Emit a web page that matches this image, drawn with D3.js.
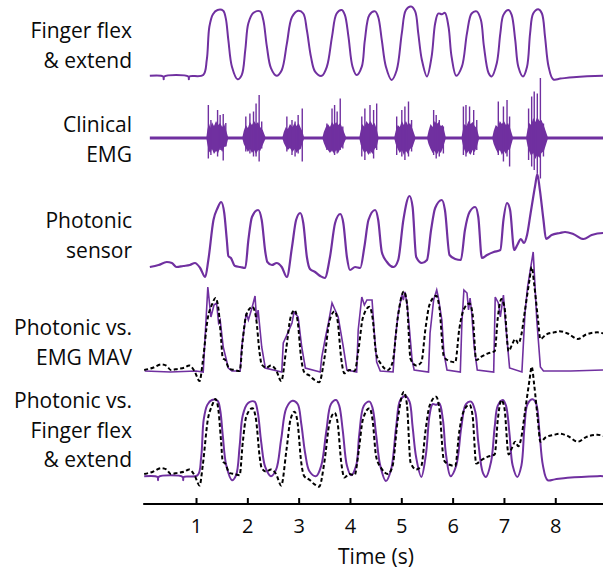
<!DOCTYPE html>
<html>
<head>
<meta charset="utf-8">
<script src="https://cdn.jsdelivr.net/npm/d3@7"></script>
<style>
  body { margin: 0; background: #fff; }
  text { font-family: "Open Sans", sans-serif; fill: #0a0a0a; }
</style>
</head>
<body>
<svg id="chart" width="603" height="572"></svg>
<script>

// ---- data (time in s, amplitude in arbitrary units) ----
var xTicks = [1, 2, 3, 4, 5, 6, 7, 8];

var rowLabels = [
  ["Finger flex", "& extend"],
  ["Clinical", "EMG"],
  ["Photonic", "sensor"],
  ["Photonic vs.", "EMG MAV"],
  ["Photonic vs.", "Finger flex", "& extend"]
];

// finger flex / extend (goniometer)
var fingerFlex = [
  [0.10,6],[0.36,5],[0.37,1],[0.38,5],[0.85,5],[0.86,1],[0.87,5],[1.14,7],[1.21,29],[1.26,76],
  [1.33,94],[1.42,100],[1.53,99],[1.58,88],[1.63,57],[1.70,19],[1.81,1],[1.89,7],[1.96,43],[2.02,81],
  [2.12,96],[2.25,98],[2.31,86],[2.38,48],[2.46,17],[2.57,6],[2.67,14],[2.77,52],[2.87,90],[2.99,99],
  [3.09,95],[3.16,71],[3.24,33],[3.32,12],[3.45,6],[3.55,19],[3.65,62],[3.74,95],[3.84,100],[3.90,93],
  [3.97,62],[4.05,19],[4.13,7],[4.23,19],[4.29,57],[4.38,93],[4.49,98],[4.55,90],[4.62,57],[4.70,19],
  [4.81,0],[4.91,14],[5.01,67],[5.09,100],[5.19,105],[5.27,98],[5.33,67],[5.40,29],[5.50,5],[5.59,33],
  [5.66,81],[5.72,95],[5.79,94],[5.85,96],[5.92,76],[5.98,33],[6.07,6],[6.18,19],[6.28,67],[6.37,95],
  [6.47,98],[6.55,86],[6.61,48],[6.70,10],[6.76,5],[6.86,24],[6.93,67],[6.99,93],[7.09,100],[7.15,93],
  [7.22,57],[7.28,19],[7.37,5],[7.45,19],[7.51,67],[7.57,95],[7.67,101],[7.74,95],[7.80,62],[7.87,19],
  [7.96,1],[8.10,2],[8.35,4],[8.93,6],[9.05,6]
];

// clinical EMG: ragged core band [t, upper, lower] + individual spikes [t, up, down]
var emgCore = [
  [1.20,0,0],[1.22,16,-12],[1.25,30,-26],[1.28,20,-30],[1.31,32,-22],[1.35,24,-32],[1.39,34,-26],[1.43,26,-30],[1.47,30,-20],[1.51,22,-28],[1.55,28,-18],[1.59,14,-16],[1.63,0,0],
  [1.90,0,0],[1.93,14,-12],[1.97,26,-20],[2.01,20,-28],[2.05,32,-22],[2.09,26,-30],[2.13,34,-24],[2.17,28,-32],[2.21,32,-24],[2.25,22,-26],[2.30,16,-14],[2.36,0,0],
  [2.68,0,0],[2.71,12,-10],[2.75,22,-18],[2.79,18,-24],[2.83,28,-20],[2.88,22,-28],[2.92,30,-22],[2.96,24,-30],[3.00,30,-24],[3.04,20,-22],[3.07,14,-12],[3.11,0,0],
  [3.46,0,0],[3.49,12,-10],[3.53,22,-20],[3.57,28,-24],[3.61,22,-30],[3.65,32,-24],[3.69,26,-32],[3.73,32,-24],[3.77,26,-30],[3.81,30,-22],[3.86,18,-16],[3.93,0,0],
  [4.18,0,0],[4.21,16,-14],[4.24,28,-22],[4.28,22,-30],[4.32,34,-26],[4.36,28,-34],[4.40,34,-26],[4.44,26,-32],[4.48,30,-22],[4.52,18,-18],[4.56,0,0],
  [4.86,0,0],[4.89,14,-12],[4.93,26,-22],[4.97,22,-30],[5.01,34,-24],[5.05,26,-34],[5.09,34,-26],[5.13,26,-32],[5.17,30,-22],[5.22,18,-18],[5.28,0,0],
  [5.50,0,0],[5.53,14,-12],[5.57,28,-22],[5.61,22,-30],[5.65,34,-26],[5.69,28,-34],[5.73,32,-26],[5.77,24,-30],[5.81,26,-20],[5.87,0,0],
  [6.17,0,0],[6.20,16,-14],[6.23,28,-24],[6.27,24,-32],[6.31,34,-26],[6.35,28,-34],[6.39,32,-24],[6.43,24,-28],[6.47,20,-18],[6.52,0,0],
  [6.77,0,0],[6.80,14,-12],[6.84,26,-22],[6.88,22,-30],[6.92,34,-24],[6.96,28,-34],[7.00,34,-26],[7.04,26,-32],[7.08,30,-24],[7.12,20,-22],[7.18,0,0],
  [7.43,0,0],[7.46,18,-16],[7.49,30,-26],[7.53,26,-36],[7.57,40,-30],[7.61,32,-42],[7.65,42,-34],[7.69,34,-40],[7.73,36,-30],[7.78,24,-26],[7.86,0,0]
];
var emgSpikes = [
  [1.24,66,-41],[1.29,36,-34],[1.42,56,-37],[1.47,46,-24],[1.53,48,-45],[1.58,30,-17],
  [1.97,43,-27],[2.05,49,-31],[2.12,53,-37],[2.17,69,-37],[2.23,86,-47],[2.28,33,-21],
  [2.77,43,-27],[2.87,36,-34],[2.93,33,-37],[2.99,46,-31],[3.07,59,-47],
  [3.55,29,-24],[3.65,59,-27],[3.70,66,-34],[3.75,53,-31],[3.81,79,-24],[3.86,23,-21],
  [4.23,43,-37],[4.29,59,-44],[4.39,66,-31],[4.46,56,-41],[4.52,69,-24],
  [4.91,43,-34],[5.01,56,-37],[5.07,63,-44],[5.14,73,-37],[5.20,36,-27],
  [5.63,56,-34],[5.68,46,-41],[5.74,36,-37],[5.82,23,-31],
  [6.21,63,-34],[6.26,66,-37],[6.33,63,-31],[6.41,56,-34],[6.47,36,-24],
  [6.89,73,-34],[6.99,63,-47],[7.06,76,-37],[7.11,43,-57],
  [7.48,59,-44],[7.54,83,-57],[7.59,93,-64],[7.65,89,-71],[7.71,120,-81],[7.77,29,-37]
];

// photonic sensor
var photonic = [
  [0.10,13],[0.27,15],[0.43,18],[0.53,17],[0.62,13],[0.75,14],[0.88,15],[0.98,17],[1.08,12],[1.18,3],
  [1.24,20],[1.34,60],[1.42,72],[1.49,78],[1.55,67],[1.60,40],[1.63,24],[1.68,22],[1.76,14],[1.86,13],
  [1.96,12],[2.02,40],[2.09,63],[2.21,70],[2.28,60],[2.35,28],[2.39,18],[2.48,15],[2.57,17],[2.67,13],
  [2.77,3],[2.87,33],[2.95,60],[3.03,67],[3.09,57],[3.16,23],[3.22,11],[3.32,8],[3.42,4],[3.51,2],
  [3.61,23],[3.71,57],[3.81,66],[3.87,57],[3.94,23],[4.00,10],[4.10,13],[4.20,12],[4.28,33],[4.36,60],
  [4.49,70],[4.55,60],[4.62,28],[4.72,18],[4.85,13],[4.94,20],[5.04,60],[5.16,84],[5.22,73],[5.29,23],
  [5.40,17],[5.50,20],[5.58,50],[5.66,72],[5.79,80],[5.85,70],[5.94,25],[6.05,21],[6.16,20],[6.24,50],
  [6.33,68],[6.44,73],[6.50,63],[6.57,22],[6.67,25],[6.80,28],[6.93,30],[6.99,60],[7.06,77],[7.12,70],
  [7.20,30],[7.26,35],[7.33,41],[7.39,37],[7.45,45],[7.52,67],[7.61,95],[7.65,106],[7.70,90],[7.77,60],
  [7.82,41],[7.93,45],[8.09,47],[8.19,48],[8.35,46],[8.55,41],[8.71,45],[8.93,47],[9.05,46]
];

// EMG mean absolute value
var emgMav = [
  [0,1],[0.5,0],[1.0,1],[1.14,0],[1.23,85],[1.29,55],[1.35,67],[1.40,69],[1.44,49],[1.47,52],
  [1.53,25],[1.63,4],[1.70,1],[1.86,1],[1.89,25],[1.98,59],[2.02,52],[2.09,64],[2.15,76],[2.18,52],
  [2.21,62],[2.28,25],[2.35,4],[2.67,0],[2.70,29],[2.77,37],[2.87,49],[2.91,60],[2.99,55],[3.06,25],
  [3.13,4],[3.42,0],[3.45,15],[3.52,34],[3.58,49],[3.65,69],[3.71,62],[3.77,55],[3.87,25],[3.94,2],
  [4.13,0],[4.16,42],[4.23,75],[4.28,67],[4.33,72],[4.43,72],[4.47,42],[4.52,10],[4.59,1],[4.84,0],
  [4.88,32],[4.94,59],[5.01,77],[5.04,72],[5.07,80],[5.11,69],[5.16,42],[5.21,12],[5.25,2],[5.53,0],
  [5.56,39],[5.63,72],[5.69,82],[5.72,75],[5.79,52],[5.83,19],[5.89,2],[6.15,0],[6.18,49],[6.22,82],
  [6.28,79],[6.31,62],[6.34,74],[6.37,60],[6.42,25],[6.48,2],[6.80,0],[6.83,75],[6.89,69],[6.93,55],
  [6.99,77],[7.02,55],[7.11,4],[7.35,0],[7.41,59],[7.46,85],[7.57,120],[7.64,52],[7.71,5],[7.77,1],
  [8.30,1],[8.93,2]
];

// overlay rows are plotted slightly earlier than the single traces
var overlayShift = 0.11;

// ---- layout ----
var purple = "#7030a0";
var svg = d3.select("#chart");

var x = d3.scaleLinear().domain([0, 8.93]).range([144.7, 603]);

var y1 = d3.scaleLinear().domain([0, 100]).range([80, 10]);
var y2 = d3.scaleLinear().domain([-100, 100]).range([188, 88]);
var y3 = d3.scaleLinear().domain([0, 100]).range([280, 180]);
var y4 = d3.scaleLinear().domain([0, 100]).range([372, 272]);
var y4b = d3.scaleLinear().domain([13, 78]).range([370, 298]);
var y5 = d3.scaleLinear().domain([0, 100]).range([481, 400]);
var y5b = d3.scaleLinear().domain([13, 78]).range([474, 399]);

function trace(ys, shift, curve) {
  return d3.line()
    .x(function(d) { return x(d[0] - shift); })
    .y(function(d) { return ys(d[1]); })
    .curve(curve);
}
var smooth = d3.curveCatmullRom.alpha(0.5);

// row 1
svg.append("path").datum(fingerFlex)
  .attr("d", trace(y1, 0, smooth))
  .attr("fill", "none").attr("stroke", purple).attr("stroke-width", 2);

// row 2: EMG
svg.append("line")
  .attr("x1", x(0.1)).attr("x2", 603)
  .attr("y1", y2(0)).attr("y2", y2(0))
  .attr("stroke", purple).attr("stroke-width", 3);

svg.append("path").datum(emgCore)
  .attr("d", d3.area()
    .x(function(d) { return x(d[0]); })
    .y0(function(d) { return y2(d[2]); })
    .y1(function(d) { return y2(d[1]); })
    .curve(d3.curveLinear))
  .attr("fill", purple);

svg.append("g").selectAll("line")
  .data(emgSpikes)
  .enter().append("line")
    .attr("x1", function(d) { return x(d[0]); })
    .attr("x2", function(d) { return x(d[0]); })
    .attr("y1", function(d) { return y2(d[1]); })
    .attr("y2", function(d) { return y2(d[2]); })
    .attr("stroke", purple).attr("stroke-width", 1.4);

// row 3
svg.append("path").datum(photonic)
  .attr("d", trace(y3, 0, d3.curveMonotoneX))
  .attr("fill", "none").attr("stroke", purple).attr("stroke-width", 2.2);

// row 4: photonic vs EMG MAV
svg.append("path").datum(emgMav)
  .attr("d", trace(y4, 0, d3.curveLinear))
  .attr("fill", "none").attr("stroke", purple).attr("stroke-width", 1.6);
svg.append("path").datum(photonic)
  .attr("d", trace(y4b, overlayShift, d3.curveMonotoneX))
  .attr("fill", "none").attr("stroke", "#000").attr("stroke-width", 2)
  .attr("stroke-dasharray", "4,2.5");

// row 5: photonic vs finger flex
svg.append("path").datum(fingerFlex)
  .attr("d", trace(y5, overlayShift, smooth))
  .attr("fill", "none").attr("stroke", purple).attr("stroke-width", 2);
svg.append("path").datum(photonic)
  .attr("d", trace(y5b, overlayShift, d3.curveMonotoneX))
  .attr("fill", "none").attr("stroke", "#000").attr("stroke-width", 2)
  .attr("stroke-dasharray", "4,2.5");

// row labels
var labelTop = [38, 132, 228, 335, 408];
rowLabels.forEach(function(lines, i) {
  var t = svg.append("text")
    .attr("text-anchor", "end")
    .attr("font-size", 21);
  lines.forEach(function(s, j) {
    t.append("tspan")
      .attr("x", 132)
      .attr("y", labelTop[i] + j * 29.5)
      .text(s);
  });
});

// time axis
var axis = svg.append("g")
  .attr("transform", "translate(0,504)")
  .call(d3.axisBottom(x).tickValues(xTicks).tickFormat(d3.format("d"))
    .tickSizeInner(-6).tickSizeOuter(0).tickPadding(15));
axis.select(".domain").attr("stroke", "#000").attr("stroke-width", 2)
  .attr("d", "M" + (x(0) - 1.5) + ",0H603");
axis.selectAll(".tick line").attr("stroke", "#000").attr("stroke-width", 2);
axis.selectAll(".tick text")
  .attr("font-family", "Open Sans, sans-serif")
  .attr("font-size", 20).attr("fill", "#0a0a0a");

svg.append("text")
  .attr("x", 376).attr("y", 564)
  .attr("text-anchor", "middle")
  .attr("font-size", 21)
  .text("Time (s)");

</script>
</body>
</html>
